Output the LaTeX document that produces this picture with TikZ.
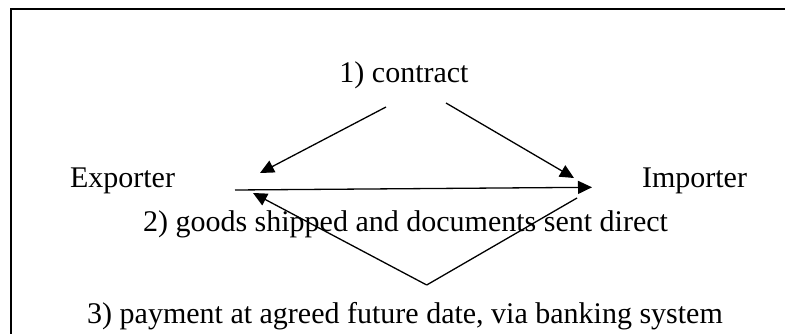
\documentclass[tikz,border=0pt]{standalone}
\usepackage{fontspec}
\setmainfont{Liberation Serif}
\usetikzlibrary{arrows.meta}
\begin{document}
\begin{tikzpicture}[x=1pt,y=-1pt,
  lbl/.style={anchor=base,inner sep=0pt,font=\fontsize{30}{36}\selectfont},
  flow/.style={line width=1.3pt,-{Triangle[length=14pt,width=13pt]}},
  plain/.style={line width=1.3pt},
  frame/.style={line width=2.5pt}]
\useasboundingbox (0,0) rectangle (785,334);
% frame
\draw[frame] (785,9) -- (11,9) -- (11,334);
% labels
\node[lbl] (contract) at (404,83) {1) contract};
\node[lbl] (exp) at (122.5,188) {Exporter};
\node[lbl] (imp) at (694.5,188) {Importer};
\node[lbl] (goods) at (405.5,232) {2) goods shipped and documents sent direct};
\node[lbl] (pay) at (405,323) {3) payment at agreed future date, via banking system};
% connector end points
\coordinate (cL) at (386,107);
\coordinate (cR) at (446,103);
\coordinate (eTipC) at (260,173);
\coordinate (iTipC) at (574,178);
\coordinate (hS) at (235,190);
\coordinate (hE) at (592,187.3);
\coordinate (pS) at (577,198);
\coordinate (pV) at (426.7,285);
\coordinate (pE) at (253,193);
% 1) contract
\draw[flow] (cL) -- (eTipC);
\draw[flow] (cR) -- (iTipC);
% 2) goods
\draw[flow] (hS) -- (hE);
% 3) payment
\draw[plain] (pS) -- (pV);
\draw[flow] (pV) -- (pE);
\end{tikzpicture}
\end{document}
